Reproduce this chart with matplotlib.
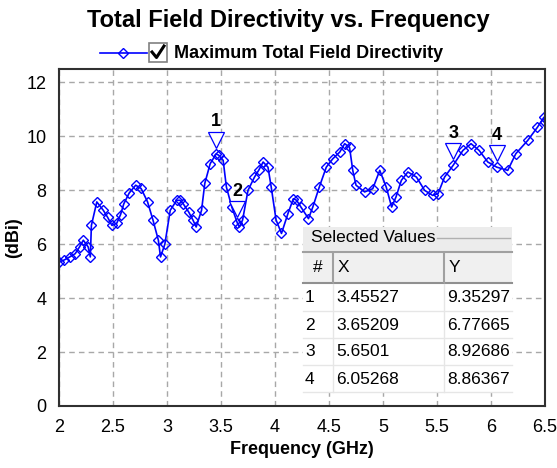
import numpy as np
import matplotlib
matplotlib.use("Agg")
from matplotlib import pyplot as plt
from matplotlib.patches import Rectangle
from matplotlib.lines import Line2D
from matplotlib.transforms import offset_copy

plt.rcParams['font.family'] = ['Liberation Sans', 'DejaVu Sans']

# frequency (GHz) and directivity (dBi)
freq = [2.00, 2.05, 2.10, 2.15, 2.19, 2.225, 2.27, 2.29, 2.30, 2.35,
        2.41, 2.45, 2.49, 2.535, 2.57, 2.60, 2.65, 2.71, 2.76, 2.82,
        2.87, 2.92, 2.94, 2.98, 3.03, 3.09, 3.12, 3.15, 3.20, 3.24,
        3.27, 3.32, 3.35, 3.40, 3.455, 3.48, 3.52, 3.55, 3.60, 3.652,
        3.67, 3.70, 3.75, 3.81, 3.85, 3.89, 3.935, 3.965, 4.01, 4.06,
        4.12, 4.17, 4.20, 4.24, 4.31, 4.35, 4.41, 4.475, 4.535, 4.60,
        4.645, 4.69, 4.72, 4.75, 4.83, 4.905, 4.97, 5.03, 5.08, 5.12,
        5.17, 5.23, 5.31, 5.385, 5.46, 5.51, 5.57, 5.65, 5.74, 5.815,
        5.89, 5.97, 6.053, 6.155, 6.23, 6.34, 6.43, 6.49, 6.50]
directivity = [5.34, 5.42, 5.53, 5.65, 5.90, 6.15, 5.90, 5.53, 6.70, 7.57,
               7.26, 7.00, 6.70, 6.78, 7.10, 7.50, 7.90, 8.19, 8.07, 7.57,
               6.90, 6.15, 5.53, 6.00, 7.26, 7.63, 7.63, 7.50, 7.20, 6.90,
               6.64, 7.26, 8.26, 8.99, 9.35, 9.30, 9.11, 8.12, 7.38, 6.78,
               6.64, 6.90, 8.00, 8.49, 8.75, 9.05, 8.86, 8.12, 6.90, 6.40,
               7.14, 7.69, 7.63, 7.38, 6.95, 7.38, 8.12, 8.86, 9.17, 9.42,
               9.73, 9.60, 8.74, 8.19, 7.94, 8.06, 8.74, 8.12, 7.38, 7.75,
               8.37, 8.68, 8.49, 8.00, 7.81, 7.88, 8.49, 8.93, 9.48, 9.73,
               9.48, 9.05, 8.86, 8.74, 9.36, 9.85, 10.34, 10.71, 10.53]

# selected markers
marker_id = ['1', '2', '3', '4']
marker_x = [3.45527, 3.65209, 5.6501, 6.05268]
marker_y = [9.35297, 6.77665, 8.92686, 8.86367]

x_ticks = [2, 2.5, 3, 3.5, 4, 4.5, 5, 5.5, 6, 6.5]
x_tick_labels = ['2', '2.5', '3', '3.5', '4', '4.5', '5', '5.5', '6', '6.5']
y_ticks = [0, 2, 4, 6, 8, 10, 12]

W, H = 557, 468
fig = plt.figure(figsize=(W / 100, H / 100), dpi=100)


def px(x, y):
    # pixel position (from top left) -> figure fraction
    return x / W, 1 - y / H


ax = fig.add_axes([59 / W, 1 - 406 / H, (545 - 59) / W, (406 - 69) / H])
ax.set_xlim(2, 6.5)
ax.set_ylim(0, 12.5)
ax.set_xticks(x_ticks)
ax.set_xticklabels(x_tick_labels)
ax.set_yticks(y_ticks)
ax.tick_params(length=0, labelsize=13, pad=9)
ax.grid(True, color='#a8a8a8', ls=(0, (4, 3)), lw=1)
for s in ax.spines.values():
    s.set_color('#303030')
    s.set_linewidth(1.5)

ax.plot(freq, directivity, color='#0000ff', lw=1.2, marker='D', ms=5.5,
        mfc='none', mec='#0000ff', mew=1.0)

# marker flags above the trace
tri = offset_copy(ax.transData, fig=fig, y=14, units='dots')
ax.plot(marker_x, marker_y, ls='none', marker='v', ms=11, mfc='white',
        mec='#0000ff', mew=0.9, transform=tri, clip_on=False)
for i in range(len(marker_id)):
    ax.annotate(marker_id[i], (marker_x[i], marker_y[i]), xytext=(0, 32),
                textcoords='offset pixels', ha='center', va='center',
                fontsize=13, fontweight='bold')

ax.set_xlabel('Frequency (GHz)', fontsize=13, fontweight='bold', labelpad=4)
ax.set_ylabel('(dBi)', fontsize=13, fontweight='bold', labelpad=3)

fig.text(*px(288, 20), 'Total Field Directivity vs. Frequency', ha='center',
         va='center', fontsize=17, fontweight='bold')

# legend with check box
fig.add_artist(Line2D([100 / W, 147 / W], [1 - 53 / H, 1 - 53 / H], color='#0000ff',
                      lw=1.2, transform=fig.transFigure))
fig.add_artist(Line2D([123 / W], [1 - 53 / H], marker='D', ms=5.5, mfc='none',
                      mec='#0000ff', mew=1.0, transform=fig.transFigure))
fig.add_artist(Rectangle(px(149, 62), 18 / W, 19 / H, transform=fig.transFigure,
                         facecolor='white', edgecolor='#808080', lw=1.2))
fig.add_artist(Line2D([152 / W, 156.5 / W, 164 / W], [1 - 52 / H, 1 - 57.5 / H, 1 - 46 / H],
                      color='black', lw=2.2, transform=fig.transFigure))
fig.text(*px(174, 53), 'Maximum Total Field Directivity', ha='left', va='center',
         fontsize=13, fontweight='bold')

# selected values table
T = fig.transFigure
fig.add_artist(Rectangle(px(303, 393), 209 / W, 166 / H, transform=T,
                         facecolor='white', edgecolor='none'))
fig.add_artist(Rectangle(px(303, 251), 209 / W, 24 / H, transform=T,
                         facecolor='#ececec', edgecolor='none'))
fig.add_artist(Line2D([437 / W, 510 / W], [1 - 238 / H] * 2, color='#b0b0b0', lw=1,
                      transform=T))
fig.text(*px(311, 238), 'Selected Values', ha='left', va='center', fontsize=12.5)
fig.add_artist(Line2D([303 / W, 512 / W], [1 - 252 / H] * 2, color='#a0a0a0', lw=1.5,
                      transform=T))
fig.add_artist(Rectangle(px(303, 282), 209 / W, 29 / H, transform=T,
                         facecolor='#f0f0f0', edgecolor='none'))
fig.add_artist(Line2D([303 / W, 512 / W], [1 - 283 / H] * 2, color='#909090', lw=1.5,
                      transform=T))
for cx in [333, 444]:
    fig.add_artist(Line2D([cx / W] * 2, [1 - 254 / H, 1 - 282 / H], color='#a0a0a0',
                          lw=1.5, transform=T))
    fig.add_artist(Line2D([cx / W] * 2, [1 - 284 / H, 1 - 392 / H], color='#e6e6e6',
                          lw=1, transform=T))
fig.text(*px(318, 268), '#', ha='center', va='center', fontsize=12.5)
fig.text(*px(338, 268), 'X', ha='left', va='center', fontsize=12.5)
fig.text(*px(449, 268), 'Y', ha='left', va='center', fontsize=12.5)
for i in range(len(marker_id)):
    ry = 298 + 27 * i
    fig.text(*px(305, ry), marker_id[i], ha='left', va='center', fontsize=12.5)
    fig.text(*px(336, ry), str(marker_x[i]), ha='left', va='center', fontsize=12.5)
    fig.text(*px(447, ry), str(marker_y[i]), ha='left', va='center', fontsize=12.5)
    fig.add_artist(Line2D([303 / W, 512 / W], [1 - (ry + 13) / H] * 2, color='#e6e6e6',
                          lw=1, transform=T))

fig.savefig('out.png', dpi=100)
